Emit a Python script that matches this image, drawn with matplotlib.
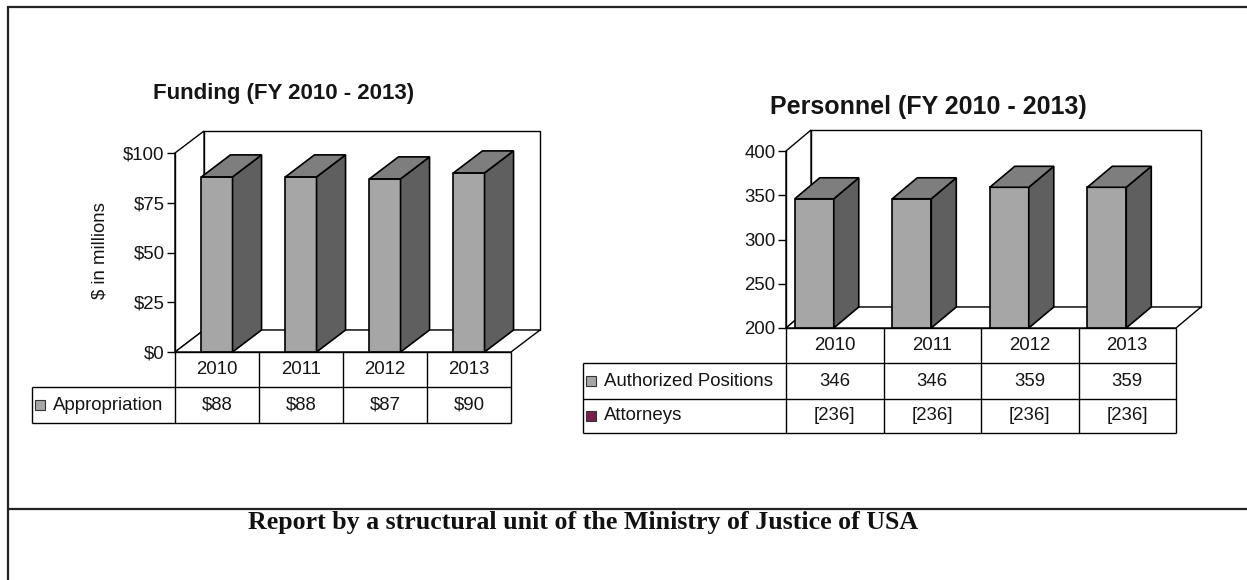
import numpy as np
import matplotlib
matplotlib.use("Agg")
import matplotlib.pyplot as plt
from matplotlib.patches import Polygon, Rectangle
from matplotlib.lines import Line2D
from matplotlib.transforms import IdentityTransform

W, H, DPI = 1247, 580, 100

# ── data ───────────────────────────────────────────────────────
years = ["2010", "2011", "2012", "2013"]
funding = [88, 88, 87, 90]
funding_ticks = [0, 25, 50, 75, 100]
positions = [346, 346, 359, 359]
attorneys = [236, 236, 236, 236]
personnel_ticks = [200, 250, 300, 350, 400]

# ── style ──────────────────────────────────────────────────────
FRONT = "#a6a6a6"
SIDE = "#5f5f5f"
TOP = "#7e7e7e"
ATTY = "#7a1e4e"
INK = "#151515"
FS = 13.4

plt.rcParams["font.family"] = ["Liberation Sans", "DejaVu Sans"]
fig = plt.figure(figsize=(W / DPI, H / DPI), dpi=DPI)
fig.patch.set_facecolor("white")
PX = IdentityTransform()   # display pixels, origin bottom-left


def line(x0, y0, x1, y1, lw=1.0, color="black", z=4):
    fig.add_artist(Line2D([x0, x1], [y0, y1], transform=PX, lw=lw,
                          color=color, zorder=z, solid_capstyle="butt"))


def chart3d(rect, ylim, ticks, fmt, values, depth, bar_w, bar_shift):
    """rect = (left, top, right, bottom) in image pixels of the front plane."""
    x0, y0, x1, y1 = rect
    ax = fig.add_axes([x0 / W, (H - y1) / H, (x1 - x0) / W, (y1 - y0) / H])
    ax.set_xlim(-0.5, len(years) - 0.5)
    ax.set_ylim(*ylim)
    ax.patch.set_visible(False)
    for s in ["top", "right", "bottom"]:
        ax.spines[s].set_visible(False)
    ax.spines["left"].set_linewidth(1.0)
    ax.spines["left"].set_zorder(5)
    ax.set_xticks([])
    ax.set_yticks(ticks, [fmt(t) for t in ticks])
    ax.tick_params(axis="y", length=6, width=1, pad=1.5, labelsize=FS,
                   labelcolor=INK)

    dx, dy = depth
    bl = ax.transData.transform((-0.5, ylim[0]))
    tr = ax.transData.transform((len(years) - 0.5, ylim[1]))
    kw = dict(transform=PX, clip_on=False, facecolor="white",
              edgecolor="black", lw=1.0, zorder=1)
    # back wall, side wall, floor
    ax.add_patch(Rectangle((bl[0] + dx, bl[1] + dy), tr[0] - bl[0],
                           tr[1] - bl[1], **kw))
    ax.add_patch(Polygon([bl, (bl[0], tr[1]), (bl[0] + dx, tr[1] + dy),
                          (bl[0] + dx, bl[1] + dy)], **kw))
    ax.add_patch(Polygon([bl, (tr[0], bl[1]), (tr[0] + dx, bl[1] + dy),
                          (bl[0] + dx, bl[1] + dy)], **kw))

    # bars: front face through ax.bar, side and top from the same scale
    xs = np.arange(len(values)) + bar_shift
    vals = np.array(values, dtype=float)
    ax.bar(xs, vals - ylim[0], bottom=ylim[0], width=bar_w, color=FRONT,
           edgecolor="black", lw=1.2, zorder=3)
    fkw = dict(transform=PX, clip_on=False, edgecolor="black", lw=1.2,
               zorder=3, joinstyle="miter")
    for x, v in zip(xs, vals):
        pb = ax.transData.transform((x - bar_w / 2, ylim[0]))
        pt = ax.transData.transform((x + bar_w / 2, v))
        ax.add_patch(Polygon([(pt[0], pb[1]), (pt[0], pt[1]),
                              (pt[0] + dx, pt[1] + dy),
                              (pt[0] + dx, pb[1] + dy)],
                             facecolor=SIDE, **fkw))
        ax.add_patch(Polygon([(pb[0], pt[1]), (pt[0], pt[1]),
                              (pt[0] + dx, pt[1] + dy),
                              (pb[0] + dx, pt[1] + dy)],
                             facecolor=TOP, **fkw))
    return ax


def data_table(ax, label_left, rows, header_h, row_hs):
    """Excel-style data table under the category axis."""
    ymin = ax.get_ylim()[0]
    edges = [ax.transData.transform((e, ymin))[0]
             for e in np.arange(len(years) + 1) - 0.5]
    top = ax.transData.transform((-0.5, ymin))[1]
    xl = label_left
    ys = [top, top - header_h]
    for h in row_hs:
        ys.append(ys[-1] - h)
    # header row
    line(edges[0], top, edges[-1], top)
    for i, yr in enumerate(years):
        fig.text((edges[i] + edges[i + 1]) / 2, top - header_h / 2, yr,
                 transform=PX, ha="center", va="center", fontsize=FS,
                 color=INK)
    for yy in ys[1:]:
        line(xl, yy, edges[-1], yy)
    for e in edges:
        line(e, top, e, ys[-1])
    line(xl, ys[1], xl, ys[-1])
    for r, (label, mcolor, cells) in enumerate(rows):
        yc = (ys[r + 1] + ys[r + 2]) / 2
        fig.add_artist(Rectangle((xl + 3, yc - 5), 10, 10, transform=PX,
                                 facecolor=mcolor, edgecolor="#333333",
                                 lw=0.8, zorder=4))
        fig.text(xl + 21, yc, label, transform=PX, ha="left", va="center",
                 fontsize=FS, color=INK)
        for i, c in enumerate(cells):
            fig.text((edges[i] + edges[i + 1]) / 2, yc, c, transform=PX,
                     ha="center", va="center", fontsize=FS, color=INK)


# ── Funding chart ───────────────────────────────────────────────
ax1 = chart3d((175, 153, 511, 352), (0, 100), funding_ticks,
              lambda t: f"${t}", funding, depth=(29, 22), bar_w=0.37,
              bar_shift=0.0)
data_table(ax1, 32, [("Appropriation", FRONT, [f"${v}" for v in funding])],
           35, [36])
fig.text(100, H - 251, "$ in millions", transform=PX, rotation=90,
         ha="center", va="center", fontsize=FS, color=INK)
fig.text(284, H - 94, "Funding (FY 2010 - 2013)", transform=PX,
         ha="center", va="center", fontsize=16, fontweight="bold", color=INK)

# ── Personnel chart ─────────────────────────────────────────────
ax2 = chart3d((786, 151, 1176, 328), (200, 400), personnel_ticks,
              lambda t: f"{t}", positions, depth=(25, 21), bar_w=0.40,
              bar_shift=-0.21)
data_table(ax2, 583,
           [("Authorized Positions", FRONT, [str(v) for v in positions]),
            ("Attorneys", ATTY, [f"[{v}]" for v in attorneys])],
           35, [36, 34])
fig.text(928, H - 107, "Personnel (FY 2010 - 2013)", transform=PX,
         ha="center", va="center", fontsize=18, fontweight="bold", color=INK)

# ── page frame and caption ──────────────────────────────────────
line(7, H - 7, W, H - 7, lw=1.6, color="#222222")
line(8, H - 6, 8, 0, lw=1.6, color="#222222")
line(8, H - 509, W, H - 509, lw=1.6, color="#222222")
fig.text(248, H - 523, "Report by a structural unit of the Ministry of Justice of USA",
         transform=PX, ha="left", va="center", fontsize=18.6, fontweight="bold",
         family=["Liberation Serif", "DejaVu Serif"], color="#111111")

fig.savefig("out.png", dpi=DPI, facecolor="white")
